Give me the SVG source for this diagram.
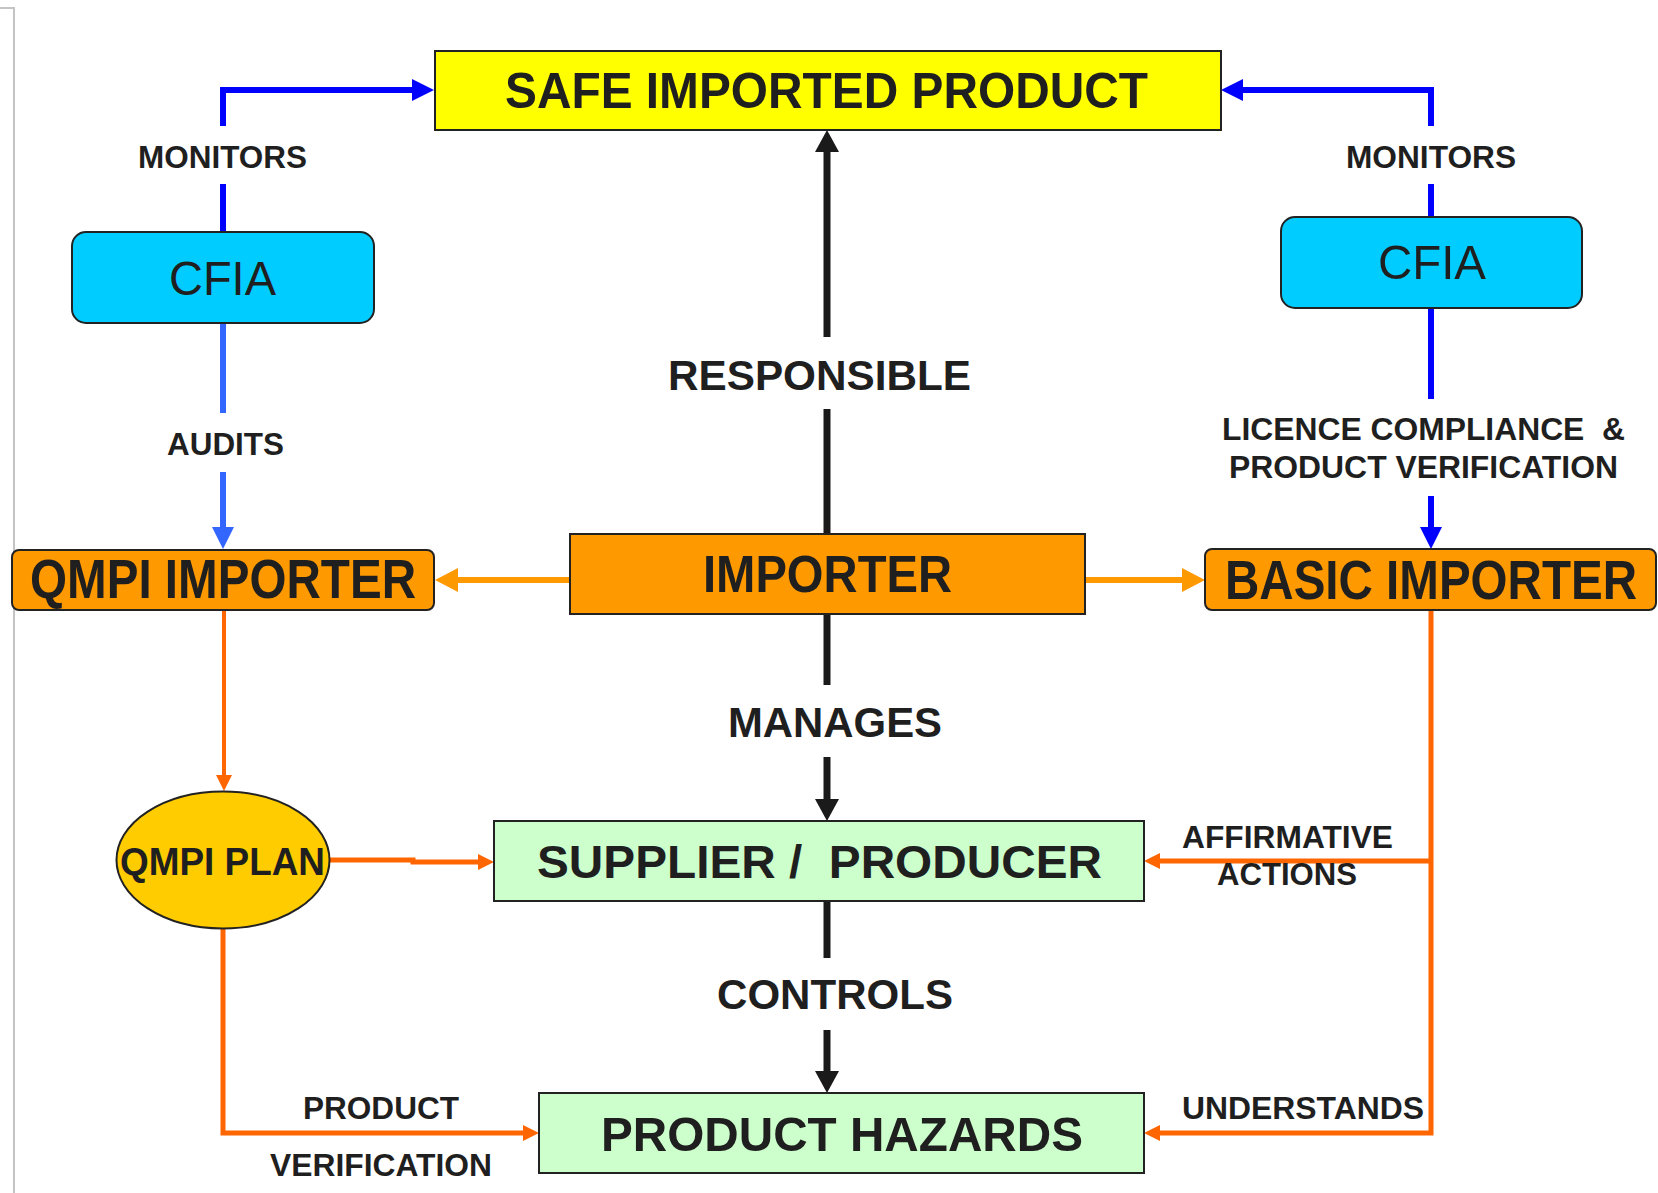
<svg xmlns="http://www.w3.org/2000/svg" width="1658" height="1193" viewBox="0 0 1658 1193">
<style>
  text { font-family: "Liberation Sans", Arial, sans-serif; fill: #1f1f1f; }
  .b { font-weight: bold; }
  .lbl { font-weight: bold; font-size: 31px; }
  .big { font-weight: bold; font-size: 42px; }
  .node { stroke: #222; stroke-width: 2; }
  .blue { fill: none; stroke: #0000ff; stroke-width: 6; }
  .lblue { fill: none; stroke: #3366ff; stroke-width: 6; }
  .blk { fill: none; stroke: #1a1a1a; stroke-width: 7; }
  .org { fill: none; stroke: #ff9900; stroke-width: 6; }
  .red { fill: none; stroke: #ff6600; stroke-width: 5; }
</style>
<defs>
  <marker id="mBlue" markerUnits="userSpaceOnUse" markerWidth="30" markerHeight="30" viewBox="0 -15 30 30" refX="0" refY="0" orient="auto" overflow="visible"><path d="M0,-11 L22,0 L0,11 z" fill="#0000ff"/></marker>
  <marker id="mLBlue" markerUnits="userSpaceOnUse" markerWidth="30" markerHeight="30" viewBox="0 -15 30 30" refX="0" refY="0" orient="auto" overflow="visible"><path d="M0,-11 L22,0 L0,11 z" fill="#3366ff"/></marker>
  <marker id="mBlk" markerUnits="userSpaceOnUse" markerWidth="30" markerHeight="30" viewBox="0 -15 30 30" refX="0" refY="0" orient="auto" overflow="visible"><path d="M0,-12 L22,0 L0,12 z" fill="#1a1a1a"/></marker>
  <marker id="mOrg" markerUnits="userSpaceOnUse" markerWidth="30" markerHeight="30" viewBox="0 -15 30 30" refX="0" refY="0" orient="auto" overflow="visible"><path d="M0,-12 L23,0 L0,12 z" fill="#ff9900"/></marker>
  <marker id="mRed" markerUnits="userSpaceOnUse" markerWidth="30" markerHeight="30" viewBox="0 -15 30 30" refX="0" refY="0" orient="auto" overflow="visible"><path d="M0,-8 L16,0 L0,8 z" fill="#ff6600"/></marker>
</defs>
<rect x="0" y="0" width="1658" height="1193" fill="#ffffff"/>
<polyline points="0,8 14,8 14,1193" fill="none" stroke="#c4c4c4" stroke-width="2"/>

<g id="connectors">
  <path class="blue" d="M223,232 V184"/>
  <path class="blue" d="M223,126 V90 H412" marker-end="url(#mBlue)"/>
  <path class="blue" d="M1431,217 V184"/>
  <path class="blue" d="M1431,126 V90 H1243" marker-end="url(#mBlue)"/>
  <path class="lblue" d="M223,323 V413"/>
  <path class="lblue" d="M223,472 V527" marker-end="url(#mLBlue)"/>
  <path class="blue" d="M1431,308 V399"/>
  <path class="blue" d="M1431,496 V527" marker-end="url(#mBlue)"/>
  <path class="blk" d="M827,534 V409"/>
  <path class="blk" d="M827,337 V152" marker-end="url(#mBlk)"/>
  <path class="blk" d="M827,614 V685"/>
  <path class="blk" d="M827,757 V799" marker-end="url(#mBlk)"/>
  <path class="blk" d="M827,901 V958"/>
  <path class="blk" d="M827,1030 V1071" marker-end="url(#mBlk)"/>
  <path class="org" d="M570,580 H458" marker-end="url(#mOrg)"/>
  <path class="org" d="M1085,580 H1182" marker-end="url(#mOrg)"/>
  <path class="red" style="stroke-width:4" d="M224,610 V775" marker-end="url(#mRed)"/>
  <path class="red" d="M329,860 H413 V862 H478" marker-end="url(#mRed)"/>
  <path class="red" d="M223,929 V1133 H523" marker-end="url(#mRed)"/>
  <path class="red" d="M1431,610 V1133 H1160" marker-end="url(#mRed)"/>
  <path class="red" d="M1431,861 H1160" marker-end="url(#mRed)"/>

  <text class="lbl" x="138" y="168" textLength="169" lengthAdjust="spacingAndGlyphs">MONITORS</text>
  <text class="lbl" x="1346" y="168" textLength="170" lengthAdjust="spacingAndGlyphs">MONITORS</text>
  <text class="lbl" x="167" y="455" textLength="117" lengthAdjust="spacingAndGlyphs">AUDITS</text>
  <text class="lbl" x="1222" y="440" textLength="403" lengthAdjust="spacingAndGlyphs" xml:space="preserve">LICENCE COMPLIANCE  &amp;</text>
  <text class="lbl" x="1229" y="478" textLength="389" lengthAdjust="spacingAndGlyphs">PRODUCT VERIFICATION</text>
  <text class="big" x="668" y="390" textLength="303" lengthAdjust="spacingAndGlyphs">RESPONSIBLE</text>
  <text class="big" x="728" y="737" textLength="214" lengthAdjust="spacingAndGlyphs">MANAGES</text>
  <text class="big" x="717" y="1009" textLength="236" lengthAdjust="spacingAndGlyphs">CONTROLS</text>
  <text class="lbl" x="1182" y="848" textLength="211" lengthAdjust="spacingAndGlyphs">AFFIRMATIVE</text>
  <text class="lbl" x="1217" y="885" textLength="140" lengthAdjust="spacingAndGlyphs">ACTIONS</text>
  <text class="lbl" x="1182" y="1119" textLength="242" lengthAdjust="spacingAndGlyphs">UNDERSTANDS</text>
  <text class="lbl" x="303" y="1119" textLength="156" lengthAdjust="spacingAndGlyphs">PRODUCT</text>
  <text class="lbl" x="270" y="1176" textLength="222" lengthAdjust="spacingAndGlyphs">VERIFICATION</text>
</g>

<g id="safe-imported-product">
  <rect class="node" x="435" y="51" width="786" height="79" fill="#ffff00"/>
  <text class="b" x="505" y="108" font-size="50" textLength="643" lengthAdjust="spacingAndGlyphs">SAFE IMPORTED PRODUCT</text>
</g>
<g id="cfia-left">
  <rect class="node" x="72" y="232" width="302" height="91" rx="14" fill="#00ccff"/>
  <text x="169" y="295" font-size="49" textLength="107" lengthAdjust="spacingAndGlyphs">CFIA</text>
</g>
<g id="cfia-right">
  <rect class="node" x="1281" y="217" width="301" height="91" rx="14" fill="#00ccff"/>
  <text x="1378" y="279" font-size="49" textLength="108" lengthAdjust="spacingAndGlyphs">CFIA</text>
</g>
<g id="qmpi-importer">
  <rect class="node" x="12" y="550" width="422" height="60" rx="7" fill="#ff9900"/>
  <text class="b" x="30" y="598" font-size="55" textLength="386" lengthAdjust="spacingAndGlyphs">QMPI IMPORTER</text>
</g>
<g id="importer">
  <rect class="node" x="570" y="534" width="515" height="80" fill="#ff9900"/>
  <text class="b" x="703" y="592" font-size="52" textLength="249" lengthAdjust="spacingAndGlyphs">IMPORTER</text>
</g>
<g id="basic-importer">
  <rect class="node" x="1205" y="549" width="451" height="61" rx="7" fill="#ff9900"/>
  <text class="b" x="1225" y="599" font-size="55" textLength="412" lengthAdjust="spacingAndGlyphs">BASIC IMPORTER</text>
</g>
<g id="qmpi-plan">
  <ellipse class="node" cx="223" cy="860" rx="106.5" ry="68.5" fill="#ffcc00"/>
  <text class="b" x="120" y="875" font-size="39" textLength="205" lengthAdjust="spacingAndGlyphs">QMPI PLAN</text>
</g>
<g id="supplier-producer">
  <rect class="node" x="494" y="821" width="650" height="80" fill="#ccffcc"/>
  <text class="b" x="537" y="878" font-size="47" textLength="565" lengthAdjust="spacingAndGlyphs" xml:space="preserve">SUPPLIER /  PRODUCER</text>
</g>
<g id="product-hazards">
  <rect class="node" x="539" y="1093" width="605" height="80" fill="#ccffcc"/>
  <text class="b" x="601" y="1151" font-size="49" textLength="482" lengthAdjust="spacingAndGlyphs">PRODUCT HAZARDS</text>
</g>
</svg>
